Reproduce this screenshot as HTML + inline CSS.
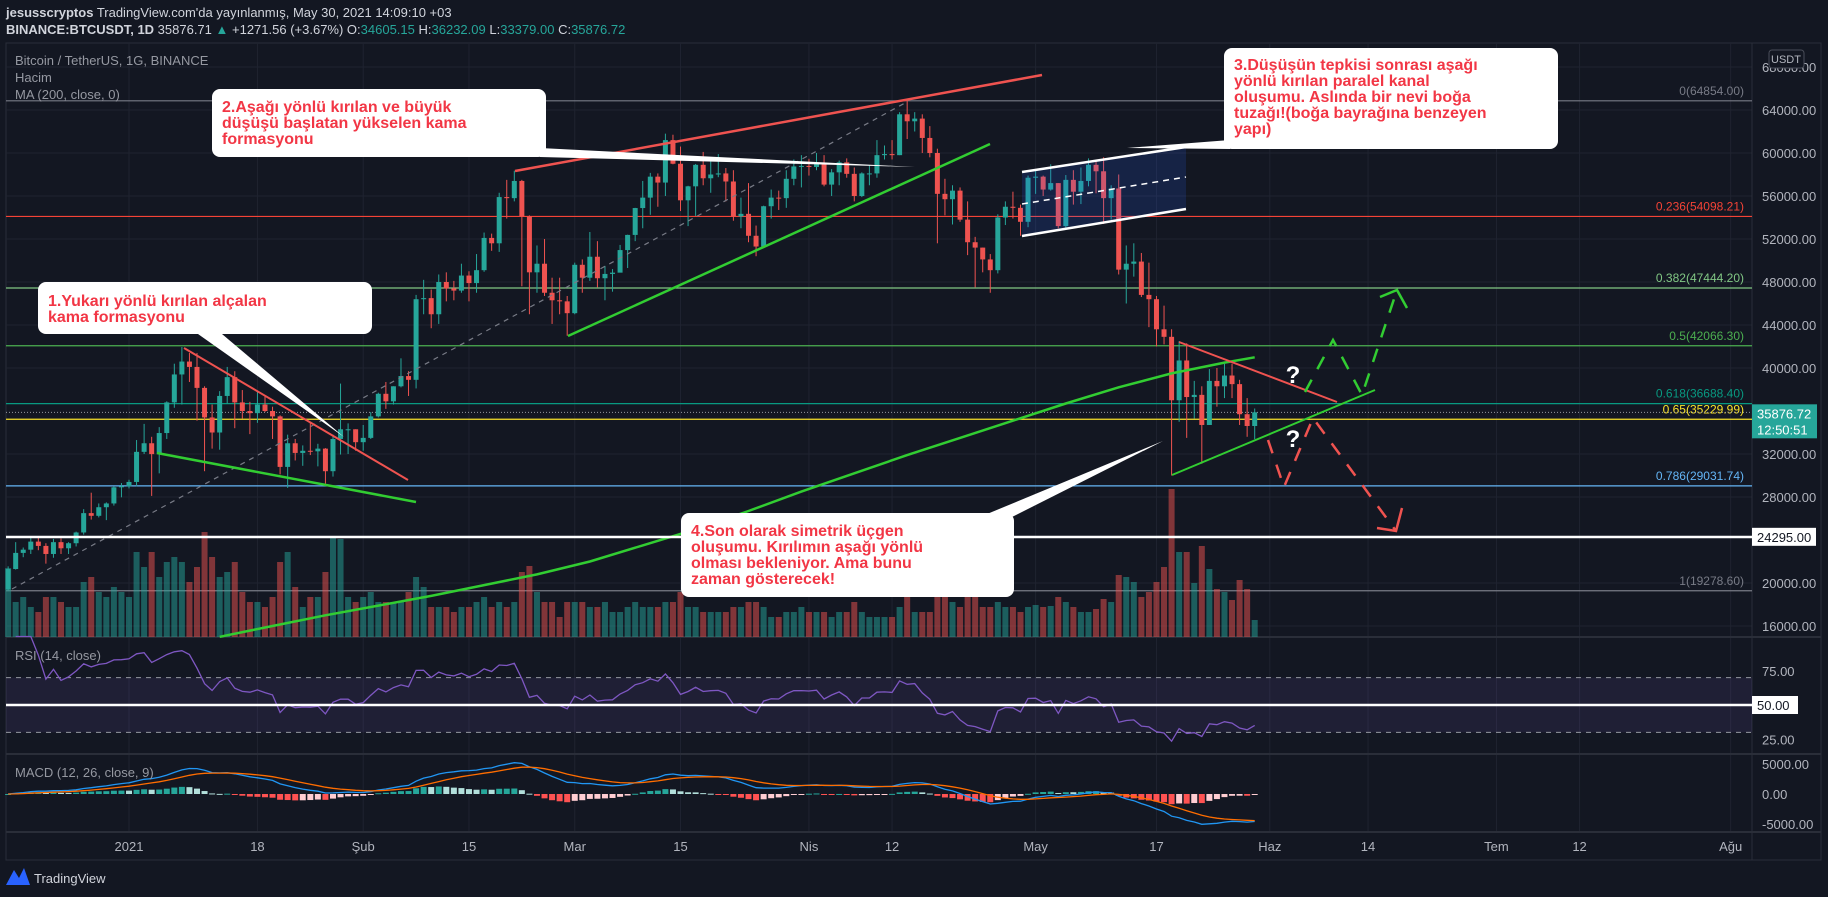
<!DOCTYPE html>
<html><head><meta charset="utf-8"><style>
html,body{margin:0;padding:0;background:#131722;}
svg{display:block;font-family:"Liberation Sans",sans-serif;}
</style></head><body>
<svg id="c" width="1828" height="897" viewBox="0 0 1828 897" xmlns="http://www.w3.org/2000/svg">
<rect x="0" y="0" width="1828" height="897" fill="#131722"/>
<rect x="6" y="43" width="1815" height="817" fill="#131722" stroke="#2a2e39"/>
<g id="grid"></g>
<g id="fib"></g>
<g id="vol"></g>
<g id="candles"></g>
<g id="ind"></g>
<g id="draw">
  <polygon points="1022,172 1186,147 1186,209 1022,236" fill="rgba(41,98,255,0.16)"/>
  <line x1="1022" y1="172" x2="1186" y2="147" stroke="#fff" stroke-width="2.5"/>
  <line x1="1022" y1="236" x2="1186" y2="209" stroke="#fff" stroke-width="2.5"/>
  <line x1="1022" y1="204" x2="1186" y2="177" stroke="#fff" stroke-width="1.5" stroke-dasharray="6,5"/>
  <line x1="12" y1="589" x2="905" y2="103" stroke="#787b86" stroke-width="1.2" stroke-dasharray="5,5"/>
  <line x1="515" y1="171" x2="1042" y2="75" stroke="#ef5350" stroke-width="2.5"/>
  <line x1="568" y1="336" x2="990" y2="144" stroke="#32cd32" stroke-width="2.5"/>
  <line x1="184" y1="348" x2="408" y2="480" stroke="#ef5350" stroke-width="2"/>
  <line x1="157" y1="453" x2="416" y2="502" stroke="#32cd32" stroke-width="2.5"/>
  <line x1="1179" y1="342" x2="1337" y2="402" stroke="#ef5350" stroke-width="2"/>
  <line x1="1172" y1="475" x2="1375" y2="390" stroke="#32cd32" stroke-width="2"/>
  <polyline points="1305,392 1333,340 1362,395 1397,290" fill="none" stroke="#32cd32" stroke-width="2.5" stroke-dasharray="14,12"/>
  <polyline points="1380,297 1397,290 1407,308" fill="none" stroke="#32cd32" stroke-width="2.5"/>
  <polyline points="1268,440 1284,487 1313,418 1396,531" fill="none" stroke="#ef5350" stroke-width="2.5" stroke-dasharray="14,12"/>
  <polyline points="1377,528 1396,531 1402,508" fill="none" stroke="#ef5350" stroke-width="2.5"/>
  <text x="1293" y="383" fill="#fff" font-size="24" font-weight="bold" text-anchor="middle">?</text>
  <text x="1293" y="447" fill="#fff" font-size="24" font-weight="bold" text-anchor="middle">?</text>
  <line x1="6" y1="537" x2="1752" y2="537" stroke="#fff" stroke-width="2.5"/>
  <line x1="6" y1="705" x2="1752" y2="705" stroke="#fff" stroke-width="2.5"/>
</g>
<g id="callouts" font-size="16" font-weight="bold" fill="#f23645">
  <g>
    <polygon points="198,334 222,334 344,437" fill="#fff"/>
    <rect x="38" y="282" width="334" height="52" rx="8" fill="#fff"/>
    <text x="48" y="306" fill="#f23645">1.Yukarı yönlü kırılan alçalan</text>
    <text x="48" y="322" fill="#f23645">kama formasyonu</text>
  </g>
  <g>
    <polygon points="540,148 540,157 915,167" fill="#fff"/>
    <rect x="212" y="89" width="334" height="68" rx="8" fill="#fff"/>
    <text x="222" y="112" fill="#f23645">2.Aşağı yönlü kırılan ve büyük</text>
    <text x="222" y="128" fill="#f23645">düşüşü başlatan yükselen kama</text>
    <text x="222" y="144" fill="#f23645">formasyonu</text>
  </g>
  <g>
    <polygon points="1230,140 1230,149 1127,148" fill="#fff"/>
    <rect x="1224" y="48" width="334" height="101" rx="8" fill="#fff"/>
    <text x="1234" y="70" fill="#f23645">3.Düşüşün tepkisi sonrası aşağı</text>
    <text x="1234" y="86" fill="#f23645">yönlü kırılan paralel kanal</text>
    <text x="1234" y="102" fill="#f23645">oluşumu. Aslında bir nevi boğa</text>
    <text x="1234" y="118" fill="#f23645">tuzağı!(boğa bayrağına benzeyen</text>
    <text x="1234" y="134" fill="#f23645">yapı)</text>
  </g>
  <g>
    <polygon points="975,519 1008,519 1163,441" fill="#fff"/>
    <rect x="681" y="513" width="333" height="84" rx="8" fill="#fff"/>
    <text x="691" y="536" fill="#f23645">4.Son olarak simetrik üçgen</text>
    <text x="691" y="552" fill="#f23645">oluşumu. Kırılımın aşağı yönlü</text>
    <text x="691" y="568" fill="#f23645">olması bekleniyor. Ama bunu</text>
    <text x="691" y="584" fill="#f23645">zaman gösterecek!</text>
  </g>
</g>
<g id="axes"></g>
<g font-size="13" fill="#d1d4dc">
  <text x="6" y="17"><tspan font-weight="bold">jesusscryptos</tspan> TradingView.com'da yayınlanmış, May 30, 2021 14:09:10 +03</text>
  <text x="6" y="34"><tspan font-weight="bold">BINANCE:BTCUSDT, 1D</tspan> 35876.71 <tspan fill="#26a69a">▲</tspan> +1271.56 (+3.67%) O:<tspan fill="#26a69a">34605.15</tspan> H:<tspan fill="#26a69a">36232.09</tspan> L:<tspan fill="#26a69a">33379.00</tspan> C:<tspan fill="#26a69a">35876.72</tspan></text>
</g>
<g font-size="13" fill="#9598a1">
  <text x="15" y="65">Bitcoin / TetherUS, 1G, BINANCE</text>
  <text x="15" y="82">Hacim</text>
  <text x="15" y="99">MA (200, close, 0)</text>
  <text x="15" y="660">RSI (14, close)</text>
  <text x="15" y="777">MACD (12, 26, close, 9)</text>
</g>
<g>
  <path d="M6,885 L14,870 L19,878 L24,868 L30,885 Z" fill="#2962ff"/>
  <text x="34" y="883" font-size="13" fill="#d1d4dc">TradingView</text>
</g>
</svg>
<script>
const firstOpen = 19400;
const closes = [21300,22800,23100,23850,23450,22700,23800,23230,23700,24700,26500,26250,27050,27400,28900,29000,
29400,32200,33000,31990,33950,36800,39400,40600,40100,38150,35400,34000,37400,39150,36800,36000,35800,36600,36000,35500,30800,33000,32100,32300,32250,32500,30400,33400,34300,34300,33100,
33500,35500,37600,36900,38300,39250,38900,46400,46500,45000,48000,47400,47200,48600,47900,49100,52100,51600,55900,55800,57400,54100,48900,49700,47000,46300,46200,45100,
49600,48400,50350,48350,48750,48870,50970,52380,54880,55850,57800,57250,61200,59000,55600,56900,58900,57650,58000,58100,57350,54100,54340,52300,51300,55050,55850,55800,57600,58750,58800,
58700,58970,57060,58200,59130,58060,56000,58100,58100,59800,59900,59800,63600,62950,63200,61400,60000,56200,55700,56500,53800,51700,51200,50100,49100,54000,55000,54900,53600,57700,
57800,56600,57200,53200,57500,56400,57400,58900,58300,55800,56700,49150,49700,49900,46800,46400,43600,42900,37000,40700,37300,37500,34700,38800,38300,39300,38500,35700,34605,35876.72];
const highs = [21550,23800,23300,24250,24300,23700,24100,24150,23800,24780,26870,28400,27400,27500,29000,29300,
29600,33300,34800,33600,34500,36900,40400,41950,41400,41400,38300,36600,37850,40100,39700,37950,36850,37850,37450,36400,35600,33800,33400,32800,34900,32950,32550,33800,38550,34850,34300,
34700,35900,37700,38700,38300,40900,39700,46800,48200,47300,48700,48900,48100,49700,49000,50600,52600,52500,56300,57500,58350,57500,54200,51400,52000,48400,48400,46700,
49800,50100,52650,51800,49500,49200,51450,52400,54900,57400,58150,58100,61800,61700,60600,56950,58980,60100,59500,59900,58600,58400,55850,57200,53250,55100,56600,56500,58400,59400,59800,
59460,60000,59800,58500,59300,59500,58650,58200,58870,61200,60700,61200,63800,64854,63800,63600,62500,60400,57600,57000,56800,55500,52200,51200,50600,54300,55500,56400,55200,57900,
58500,57900,58950,57200,57950,58400,58650,59500,59300,59600,57000,58000,51400,51600,50700,49800,46700,45800,43600,42500,42300,38800,38300,39900,40000,40400,40400,38900,37200,36232];
const lows = [19300,21250,22400,22700,23050,21800,22350,22700,22700,23400,24500,25900,26100,25850,27200,27970,
28800,29000,32000,28100,30200,33400,36300,36600,38700,35100,30400,32500,32400,36700,34400,35300,33850,34900,35900,33400,30100,28850,31400,30900,31900,30850,29250,29900,31950,32000,32300,
32300,33400,35400,36200,36600,38200,37400,38100,45000,43700,44100,46200,46300,47000,46200,47000,48950,50900,50800,53900,55500,47600,45000,47000,46700,44100,45000,43000,
45000,47000,48100,47500,46300,47100,48900,49300,51800,53000,54250,55000,56000,58950,54600,53200,54150,57000,56300,57750,55500,53700,53000,51700,50400,51700,53900,54700,54900,57000,56800,
57900,58400,56900,56000,57000,57700,55500,55900,57000,57700,59400,59400,59800,61300,62000,60000,59600,51600,54200,53350,53600,50500,47500,48900,47000,48800,53300,53900,52300,53100,
56200,56000,56500,53000,52900,55200,55250,56900,56250,53400,53800,48700,46000,48500,46600,43800,42000,42200,30000,35000,33500,35300,31100,34700,36400,37200,37200,34700,33600,33379];
const volumes = [138,70,80,60,50,80,80,70,60,60,110,120,90,80,100,90,
80,170,140,170,120,150,160,150,110,140,210,160,120,130,150,90,70,70,60,80,150,170,100,60,80,80,130,200,196,80,70,
80,90,70,70,70,70,90,120,100,60,60,60,50,60,60,70,80,60,70,60,70,130,142,90,70,70,40,70,
70,70,60,60,70,50,50,60,70,60,60,60,70,70,90,60,60,50,50,50,50,60,60,70,70,60,40,40,50,50,60,
50,50,50,40,50,50,70,50,40,40,40,40,60,80,50,50,50,110,80,70,60,80,90,60,60,70,60,60,50,60,
64,60,62,80,70,60,50,50,56,76,70,124,120,110,80,90,110,140,296,170,170,108,182,136,96,90,74,114,96,34];
const maDays = [12,19,26,33,40,47,54,61,68,75,82,89,96,103,110,117,124,131,138,145,149];
const maValues = [15000,16000,17000,17900,18800,19800,20800,22000,23500,25000,26700,28500,30200,31900,33500,35100,36700,38200,39500,40500,41000];
const fibLevels = [0,0.236,0.382,0.5,0.618,0.65,0.786,1];
const fibPrices = [64854.00,54098.21,47444.20,42066.30,36688.40,35229.99,29031.74,19278.60];
const priceTicks = [68000,64000,60000,56000,52000,48000,44000,40000,32000,28000,20000,16000];
const timeLabels = ["2021","18","Şub","15","Mar","15","Nis","12","May","17","Haz","14","Tem","12","Ağu"];
const timeDays = [0,17,31,45,59,73,90,101,120,136,151,164,181,192,212];
const rsiTicks = [75,25];
const macdTicks = [5000,0,-5000];

const NS="http://www.w3.org/2000/svg";
const xDay = d => 129 + d*7.555;
const xIdx = i => xDay(i-16);
const yP = p => 110 + (64000-p)*0.01075;
const yVol = v => 637 - v*0.5;
const yRsi = r => 705 - (r-50)*1.37;
const yMacd = m => 794 - m*0.006;
function mk(tag, parent, attrs){const e=document.createElementNS(NS,tag);for(const k in attrs)e.setAttribute(k,attrs[k]);document.getElementById(parent).appendChild(e);return e;}

timeDays.forEach((d,i)=>{
  const g=mk('line','grid',{x1:xDay(d),x2:xDay(d),y1:43,y2:832,stroke:'#1f2330','stroke-width':1});
  
  
});
priceTicks.forEach(p=>{
  const g=mk('line','grid',{x1:6,x2:1752,y1:yP(p),y2:yP(p),stroke:'#1f2330','stroke-width':1});
  
  
});
[637,754,832].forEach(y=>{
  const l=mk('line','grid',{x1:6,x2:1821,y1:y,y2:y,stroke:'#2a2e39','stroke-width':2});
  
  
});
const ax=mk('line','grid',{x1:1752,x2:1752,y1:43,y2:860,stroke:'#2a2e39','stroke-width':1});


const band=mk('rect','grid',{x:6,y:yRsi(70),width:1746,height:yRsi(30)-yRsi(70),fill:'rgba(126,87,194,0.12)'});


[70,30].forEach(v=>{
  const l=mk('line','grid',{x1:6,x2:1752,y1:yRsi(v),y2:yRsi(v),stroke:'#9598a1','stroke-dasharray':'5,5','stroke-width':1});
  
  
});

const fibColors=['#787b86','#f44336','#81c784','#4caf50','#089981','#f7e12a','#64b5f6','#787b86'];
fibPrices.forEach((p,i)=>{
  const l=mk('line','fib',{x1:6,x2:1752,y1:yP(p),y2:yP(p),stroke:fibColors[i],'stroke-width':1.2});
  
  
  const t=mk('text','fib',{x:1744,y:yP(p)-6,fill:fibColors[i],'font-size':12,'text-anchor':'end'});
  t.textContent=fibLevels[i]+'('+p.toFixed(2)+')';
  
  
});
const last=closes[closes.length-1];
const dl=mk('line','fib',{x1:6,x2:1752,y1:yP(last),y2:yP(last),stroke:'#9598a1','stroke-dasharray':'1,2','stroke-width':1});



closes.forEach((c,i)=>{
  const o = i===0?firstOpen:closes[i-1];
  const up = c>=o;
  const x = xIdx(i);
  const vb=mk('rect','vol',{x:x-3,y:yVol(volumes[i]),width:6,height:637-yVol(volumes[i]),fill:up?'rgba(38,166,154,0.5)':'rgba(239,83,80,0.5)'});
  
  
  const col = up?'#26a69a':'#ef5350';
  const w=mk('line','candles',{x1:x,x2:x,y1:yP(highs[i]),y2:yP(lows[i]),stroke:col,'stroke-width':1});
  
  
  const top=yP(Math.max(o,c)), bot=yP(Math.min(o,c));
  const b=mk('rect','candles',{x:x-2.5,y:top,width:5,height:Math.max(1,bot-top),fill:col});
  
  
});

const maPts = maDays.map((d,i)=>xDay(d).toFixed(1)+','+yP(maValues[i]).toFixed(1)).join(' ');
const ma=mk('polyline','ind',{points:maPts,fill:'none',stroke:'#32cd32','stroke-width':2.5});



const rsi=[]; let ag=0, al=0;
for(let i=1;i<closes.length;i++){
  const ch=closes[i]-closes[i-1]; const g=Math.max(ch,0), l=Math.max(-ch,0);
  const n=Math.min(i,14);
  ag=(ag*(n-1)+g)/n; al=(al*(n-1)+l)/n;
  rsi.push([i, al===0?100:100-100/(1+ag/al)]);
}
const rsiPts=rsi.map(([i,r])=>xIdx(i).toFixed(1)+','+yRsi(r).toFixed(1)).join(' ');
const rl=mk('polyline','ind',{points:rsiPts,fill:'none',stroke:'#7e57c2','stroke-width':1.3});



let e12=closes[0],e26=closes[0],sig=0; const macd=[],sg=[];
closes.forEach((c,i)=>{e12=e12+(c-e12)*2/13; e26=e26+(c-e26)*2/27; const m=e12-e26; sig = i===0?m:sig+(m-sig)*0.2; macd.push(m); sg.push(sig);});
let prevH=0;
macd.forEach((m,i)=>{
  const h=m-sg[i]; const x=xIdx(i);
  const col = h>=0 ? (h>=prevH?'#26a69a':'#b2dfdb') : (h<prevH?'#ff5252':'#ffcdd2');
  prevH=h;
  const y0=yMacd(0), y1=yMacd(h);
  const r=mk('rect','ind',{x:x-3,y:Math.min(y0,y1),width:6,height:Math.max(1,Math.abs(y1-y0)),fill:col});
  
  
});
const mPts=macd.map((m,i)=>xIdx(i).toFixed(1)+','+yMacd(m).toFixed(1)).join(' ');
const sPts=sg.map((m,i)=>xIdx(i).toFixed(1)+','+yMacd(m).toFixed(1)).join(' ');
const ml=mk('polyline','ind',{points:mPts,fill:'none',stroke:'#2196f3','stroke-width':1.3});


const sl=mk('polyline','ind',{points:sPts,fill:'none',stroke:'#ff6d00','stroke-width':1.3});



priceTicks.forEach(p=>{
  const t=mk('text','axes',{x:1762,y:yP(p)+5,fill:'#b2b5be','font-size':13});
  t.textContent=p.toFixed(2);
  
  
});
rsiTicks.forEach(v=>{
  const t=mk('text','axes',{x:1762,y:yRsi(v)+5,fill:'#b2b5be','font-size':13});
  t.textContent=v.toFixed(2);
  
  
});
macdTicks.forEach(v=>{
  const t=mk('text','axes',{x:1762,y:yMacd(v)+5,fill:'#b2b5be','font-size':13});
  t.textContent=v.toFixed(2);
  
  
});
timeLabels.forEach((s,i)=>{
  const t=mk('text','axes',{x:xDay(timeDays[i]),y:851,fill:'#b2b5be','font-size':13,'text-anchor':'middle'});
  t.textContent=s;
  
  
});
function badge(y,h,w,bg,fg,lines,name){
  const r=mk('rect','axes',{x:1752,y:y,width:w,height:h,fill:bg});
  
  
  lines.forEach((s,k)=>{
    const t=mk('text','axes',{x:1757,y:y+14+k*16,fill:fg,'font-size':13});
    t.textContent=s;
    
    
  });
}
badge(yP(last)-8,34,65,'#26a69a','#fff',[last.toFixed(2),'12:50:51'],'last-price-badge');
badge(yP(24295)-9,18,64,'#fff','#131722',['24295.00'],'support-badge');
badge(yRsi(50)-9,18,46,'#fff','#131722',['50.00'],'rsi-50-badge');
const u=mk('rect','axes',{x:1769,y:50,width:35,height:18,rx:3,fill:'#131722',stroke:'#4a4e59'});


const ut=mk('text','axes',{x:1786,y:63,fill:'#b2b5be','font-size':11,'text-anchor':'middle'});
ut.textContent='USDT';


</script>
</body></html>
